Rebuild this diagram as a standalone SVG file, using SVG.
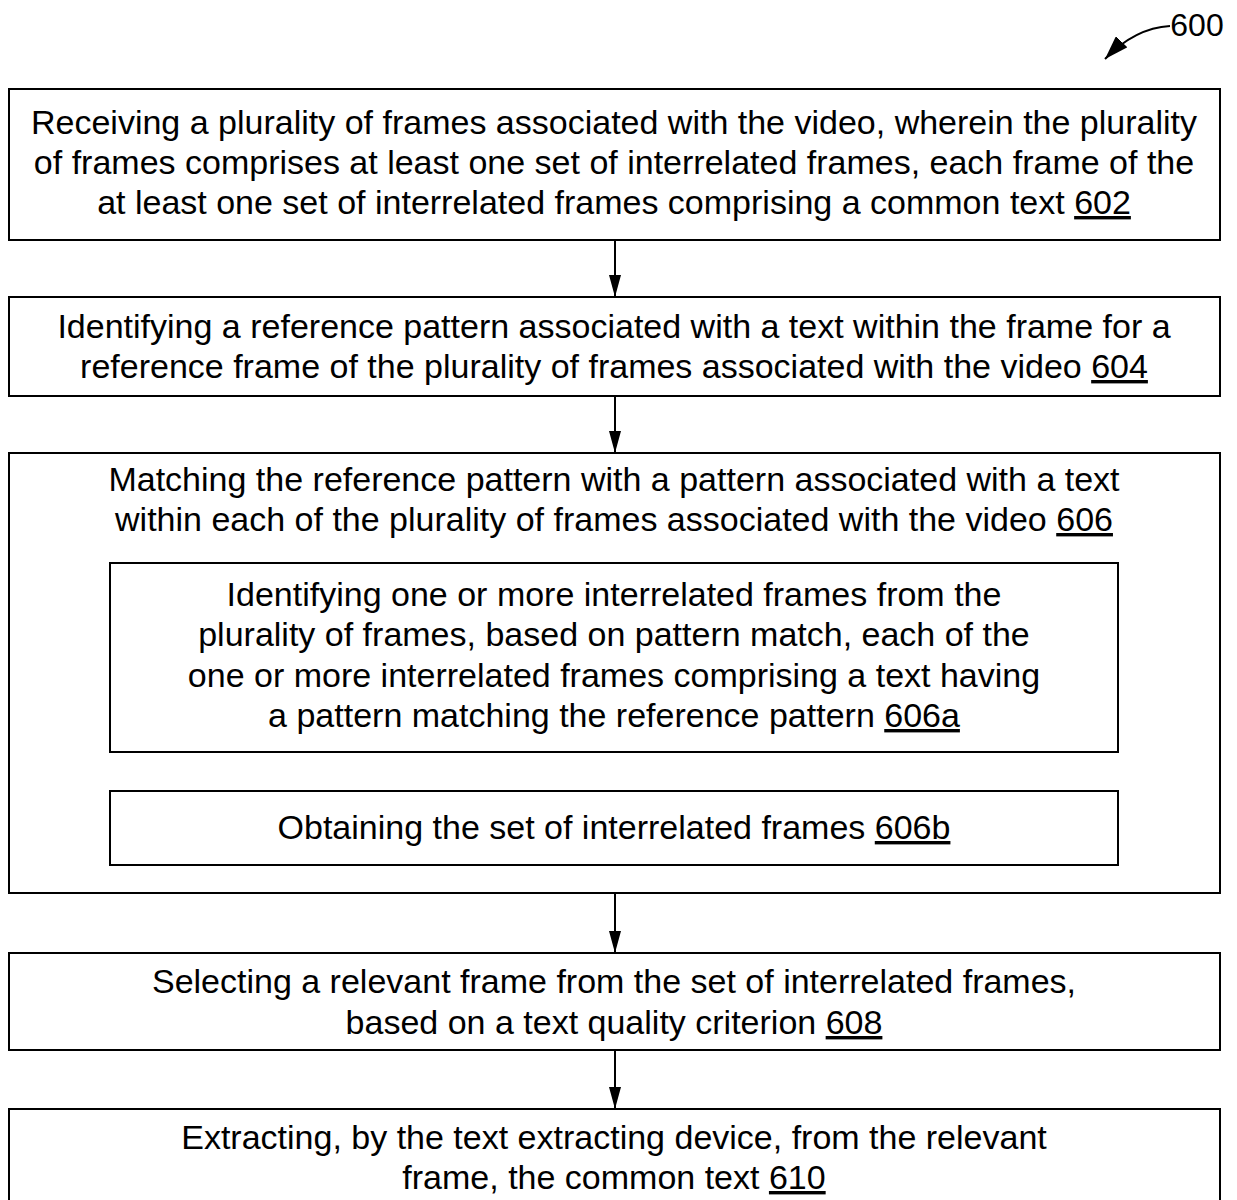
<svg xmlns="http://www.w3.org/2000/svg" width="1237" height="1200" viewBox="0 0 1237 1200">
<style>
.box{fill:#fff;stroke:#000;stroke-width:2}
.t{font-family:"Liberation Sans",Arial,sans-serif;font-size:34px;fill:#000;text-anchor:middle}
.u{text-decoration:underline}
.c{stroke:#000;stroke-width:2;fill:none}
</style>
<defs>
<marker id="ah" viewBox="0 0 22 12" refX="22" refY="6" markerWidth="22" markerHeight="12" orient="auto" markerUnits="userSpaceOnUse">
<path d="M0,0 L22,6 L0,12 Z" fill="#000"/>
</marker>
<marker id="ah2" viewBox="0 0 24 16" refX="24" refY="8" markerWidth="24" markerHeight="16" orient="auto" markerUnits="userSpaceOnUse">
<path d="M0,0 L24,8 L0,16 Z" fill="#000"/>
</marker>
</defs>
<g id="label600">
<text class="t" x="1197" y="36" style="font-size:32px">600</text>
<path class="c" d="M1170,26 Q1135,28 1105,59" marker-end="url(#ah2)"/>
</g>
<g id="n602">
<rect class="box" x="9" y="89" width="1211" height="151"/>
<text class="t" x="614" y="134">Receiving a plurality of frames associated with the video, wherein the plurality</text>
<text class="t" x="614" y="174">of frames comprises at least one set of interrelated frames, each frame of the</text>
<text class="t" x="614" y="214">at least one set of interrelated frames comprising a common text <tspan class="u">602</tspan></text>
</g>
<g id="n604">
<rect class="box" x="9" y="297" width="1211" height="99"/>
<text class="t" x="614" y="338">Identifying a reference pattern associated with a text within the frame for a</text>
<text class="t" x="614" y="378">reference frame of the plurality of frames associated with the video <tspan class="u">604</tspan></text>
</g>
<g id="n606">
<rect class="box" x="9" y="453" width="1211" height="440"/>
<text class="t" x="614" y="491">Matching the reference pattern with a pattern associated with a text</text>
<text class="t" x="614" y="531">within each of the plurality of frames associated with the video <tspan class="u">606</tspan></text>
</g>
<g id="n606a">
<rect class="box" x="110" y="563" width="1008" height="189"/>
<text class="t" x="614" y="606">Identifying one or more interrelated frames from the</text>
<text class="t" x="614" y="646">plurality of frames, based on pattern match, each of the</text>
<text class="t" x="614" y="687">one or more interrelated frames comprising a text having</text>
<text class="t" x="614" y="727">a pattern matching the reference pattern <tspan class="u">606a</tspan></text>
</g>
<g id="n606b">
<rect class="box" x="110" y="791" width="1008" height="74"/>
<text class="t" x="614" y="839">Obtaining the set of interrelated frames <tspan class="u">606b</tspan></text>
</g>
<g id="n608">
<rect class="box" x="9" y="953" width="1211" height="97"/>
<text class="t" x="614" y="993">Selecting a relevant frame from the set of interrelated frames,</text>
<text class="t" x="614" y="1034">based on a text quality criterion <tspan class="u">608</tspan></text>
</g>
<g id="n610">
<rect class="box" x="9" y="1109" width="1211" height="120"/>
<text class="t" x="614" y="1149">Extracting, by the text extracting device, from the relevant</text>
<text class="t" x="614" y="1189">frame, the common text <tspan class="u">610</tspan></text>
</g>
<g id="connectors">
<line class="c" x1="615" y1="240" x2="615" y2="297" marker-end="url(#ah)"/>
<line class="c" x1="615" y1="396" x2="615" y2="453" marker-end="url(#ah)"/>
<line class="c" x1="615" y1="893" x2="615" y2="953" marker-end="url(#ah)"/>
<line class="c" x1="615" y1="1050" x2="615" y2="1109" marker-end="url(#ah)"/>
</g>
</svg>
